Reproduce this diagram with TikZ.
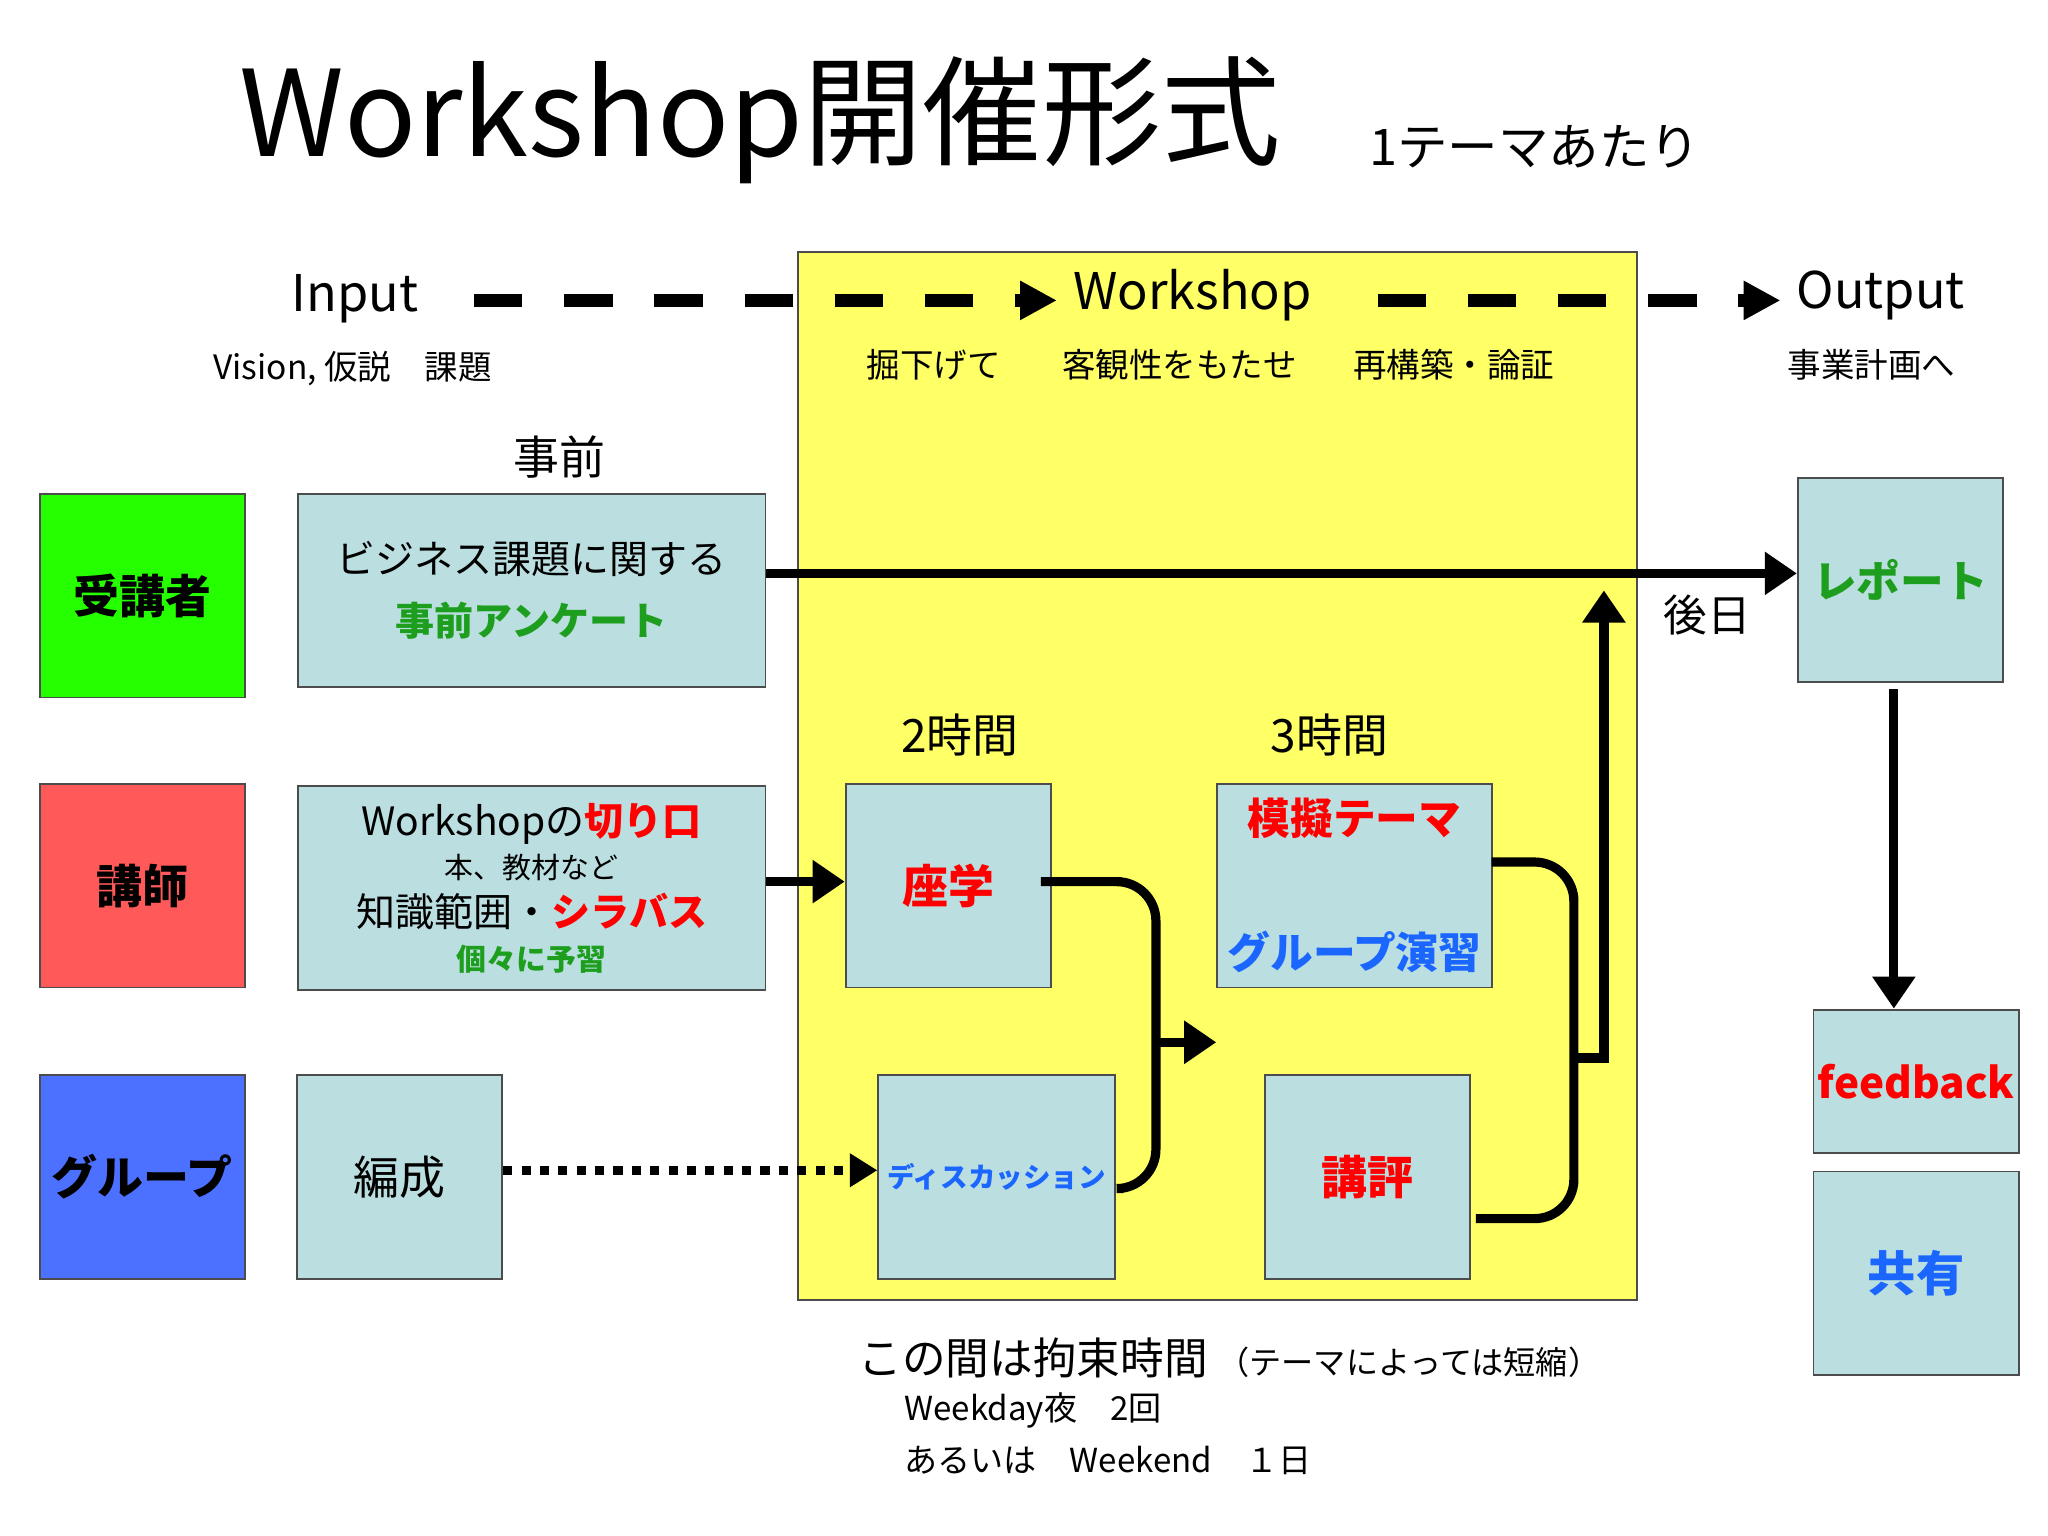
\documentclass[tikz,border=0pt]{standalone}
\usepackage{fontspec}
\setmainfont{Noto Sans CJK JP}
\usetikzlibrary{arrows.meta}
\definecolor{boxfill}{HTML}{BBDFE0}
\definecolor{wsyellow}{HTML}{FFFF66}
\definecolor{txtgreen}{HTML}{1E9E1E}
\definecolor{txtblue}{HTML}{1A66FF}
\tikzset{
  box/.style={draw=black!70, fill=boxfill, minimum width=1.57cm, minimum height=1.56cm, inner sep=0pt, align=center},
  role/.style={box, fs=10},
  thick arrow/.style={line width=2pt, -{Triangle[length=7pt,width=9pt]}},
  thick line/.style={line width=2pt, rounded corners=0.3cm},
  fs/.style={font=\fontsize{#1}{#1}\selectfont}
}
\begin{document}
\begin{tikzpicture}[x=0.01cm, y=-0.01cm]
\useasboundingbox (0,0) rectangle (1568,1176);

% title
\node[fs=26] (title) at (582,92) {Workshop開催形式};
\node[fs=11] (per theme) at (1175,112) {1テーマあたり};

% workshop area
\node[draw=black!70, fill=wsyellow, minimum width=6.42cm, minimum height=8.02cm, inner sep=0pt] (area) at (932,594) {};

% phases
\node[fs=11] (input) at (272,229) {Input};
\node[fs=11] (workshop) at (913,226) {Workshop};
\node[fs=11] (output) at (1440,226) {Output};
\draw[line width=3pt, dash pattern=on 0.37cm off 0.32cm, -{Triangle[length=8pt,width=8pt]}] (input.east)+(30,1) coordinate (d1) -- (workshop.west |- d1);
\draw[line width=3pt, dash pattern=on 0.37cm off 0.32cm, -{Triangle[length=8pt,width=8pt]}] (workshop.east)+(38,4) coordinate (d2) -- (output.west |- d2);
\node[fs=7.3] (vision) at (270,282) {Vision, 仮説　課題};
\node[fs=7.3] (dig) at (715,279) {掘下げて};
\node[fs=7.3] (objective) at (903,279) {客観性をもたせ};
\node[fs=7.3] (rebuild) at (1113,279) {再構築・論証};
\node[fs=7.3] (plan) at (1433,279) {事業計画へ};

% roles
\node[role, fill=green!80!lime] (student) at (109,456) {\bfseries 受講者};
\node[role, fill=red!65!white] (teacher) at (109,678) {\bfseries 講師};
\node[role, fill=blue!80!cyan!70!white] (group) at (109,901) {\bfseries グループ};

% before
\node[fs=10] (before) at (428,350) {事前};
\node[box, minimum width=3.58cm, minimum height=1.48cm, fs=8.5] (survey) at (407,452) {ビジネス課題に関する\\[5pt]\textcolor{txtgreen}{\bfseries 事前アンケート}};
\node[box, minimum width=3.58cm, fs=8.5] (syllabus) at (407,680) {Workshopの\textcolor{red}{\bfseries 切り口}\\[1pt]
  {\fontsize{6.3}{7}\selectfont 本、教材など}\\[2pt]
  知識範囲・\textcolor{red}{\bfseries シラバス}\\[1pt]
  {\fontsize{6.5}{7}\selectfont\bfseries\color{txtgreen} 個々に予習}};
\node[box, fs=10] (forming) at (306,901) {編成};

% workshop contents
\node[fs=10] (two hours) at (735,563) {2時間};
\node[fs=10] (three hours) at (1018,563) {3時間};
\node[box, fs=10, text=red] (lecture) at (726,678) {\bfseries 座学};
\node[box, minimum width=1.81cm, fs=6, text=txtblue] (discussion) at (763,901) {\bfseries ディスカッション};
\node[box, minimum width=2.1cm, fs=9.3] (exercise) at (1037,678) {\textcolor{red}{\bfseries 模擬テーマ}\\[20pt]\textcolor{txtblue}{\bfseries グループ演習}};
\node[box, fs=10, text=red] (review) at (1047,901) {\bfseries 講評};

% after
\node[box, fs=9.5, text=txtgreen] (report) at (1455,444) {\bfseries レポート};
\node[box, minimum height=1.1cm, fs=9.2, text=red] (feedback) at (1467,828) {\bfseries feedback};
\node[box, fs=10.5, text=txtblue] (share) at (1467,975) {\bfseries 共有};
\node[fs=9.5] (later) at (1307,471) {後日};

% connectors
\draw[thick arrow] (survey.east |- 0,439) -- (report.west |- 0,439);
\draw[thick arrow] (syllabus.east |- 0,675) -- (lecture.west |- 0,675);
\draw[line width=2pt, dotted, -{Triangle[length=6pt,width=7pt]}] (forming.east |- 0,896) -- (discussion.west |- 0,896);
\coordinate (merge1) at (885,798);
\coordinate (merge2) at (1205,810);
\draw[thick line] (797,675) -- (885,675) -- (885,910) -- (860,910);
\draw[thick arrow] (merge1) -- (exercise.west |- merge1);
\draw[thick line] (1142,660) -- (1205,660) -- (1205,933) -- (1130,933);
\draw[thick arrow] (merge2) -- (1228,810) -- (1228,452);
\draw[thick arrow] (report.south) ++(-5,5) -- (feedback.north -| 1450,0);

% note
\node[fs=9.5, anchor=west] (note) at (645,1040) {この間は拘束時間\ {\fontsize{7}{8}\selectfont （テーマによっては短縮）}};
\node[fs=7.2, anchor=west] (weekday) at (680,1080) {Weekday夜　2回};
\node[fs=7.2, anchor=west] (weekend) at (680,1118) {あるいは　Weekend　１日};
\end{tikzpicture}
\end{document}
